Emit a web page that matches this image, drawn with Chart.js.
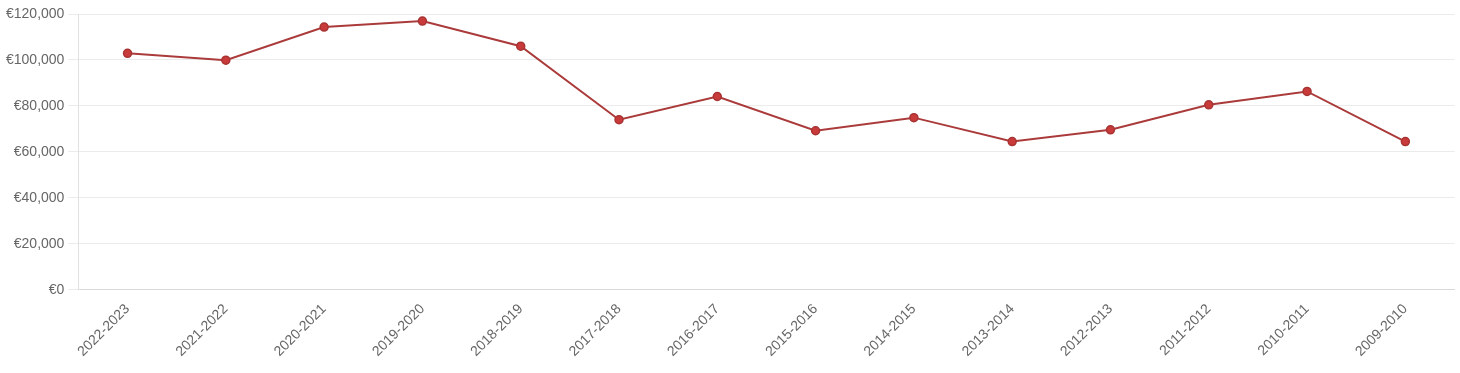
<!DOCTYPE html>
<html>
<head>
<meta charset="utf-8">
<script src="https://cdn.jsdelivr.net/npm/chart.js@4"></script>
<style>
  html, body { margin: 0; padding: 0; background: #fff; }
  #wrap { width: 1460px; height: 373px; }
</style>
</head>
<body>
<div id="wrap"><canvas id="salaryChart"></canvas></div>
<script>
  const years = [
    "2022-2023", "2021-2022", "2020-2021", "2019-2020", "2018-2019", "2017-2018", "2016-2017",
    "2015-2016", "2014-2015", "2013-2014", "2012-2013", "2011-2012", "2010-2011", "2009-2010",
  ];
  const amounts = [
    102900, 99900, 114300, 116900, 106000, 74000, 84100,
    69200, 74900, 64500, 69600, 80500, 86300, 64500,
  ];
  const yTicks = [0, 20000, 40000, 60000, 80000, 100000, 120000];

  const euro = (v) => "€" + v.toLocaleString("en-US");

  new Chart(document.getElementById("salaryChart"), {
    type: "line",
    data: {
      labels: years,
      datasets: [
        {
          data: amounts,
          borderColor: "#ab3b3b",
          backgroundColor: "#c93a3a",
          pointBorderColor: "#a83434",
          pointBackgroundColor: "#c93a3a",
          borderWidth: 2,
          pointRadius: 4,
          pointBorderWidth: 1.5,
          tension: 0,
          fill: false,
        },
      ],
    },
    options: {
      responsive: true,
      maintainAspectRatio: false,
      animation: false,
      layout: { padding: { top: 14, right: 0, left: 2, bottom: 10 } },
      plugins: { legend: { display: false }, tooltip: { enabled: false } },
      scales: {
        x: {
          offset: true,
          grid: { display: false },
          border: { color: "#d9d9d9" },
          ticks: {
            color: "#666",
            font: { family: "Liberation Sans, Arial", size: 14 },
            maxRotation: 45,
            minRotation: 45,
            autoSkip: false,
          },
        },
        y: {
          min: 0,
          max: 120000,
          afterBuildTicks: (axis) => { axis.ticks = yTicks.map((v) => ({ value: v })); },
          grid: { color: "#ebebeb", tickLength: 10 },
          border: { color: "#e0e0e0" },
          ticks: {
            color: "#666",
            padding: 4,
            font: { family: "Liberation Sans, Arial", size: 14 },
            callback: (v) => euro(v),
          },
        },
      },
    },
  });
</script>
</body>
</html>
